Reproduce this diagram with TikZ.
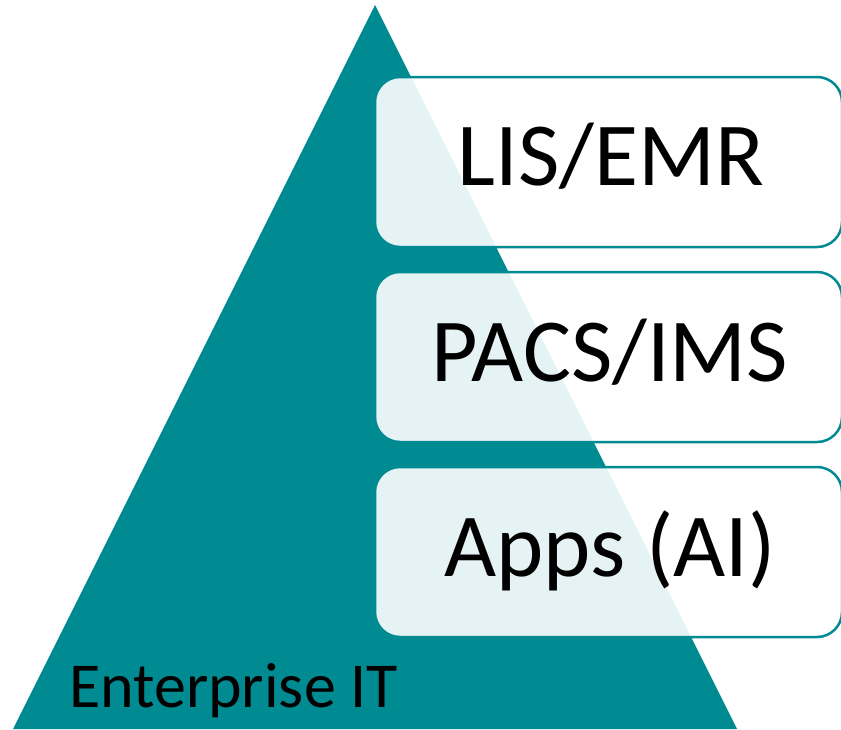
\documentclass[tikz,border=0pt]{standalone}
\usepackage{fontspec}
\setmainfont{Carlito}
\definecolor{tealmain}{RGB}{0,138,145}
\begin{document}
\begin{tikzpicture}[x=1pt,y=-1pt]
\tikzstyle{layer}=[rectangle, rounded corners=25pt, draw=tealmain, line width=2.5pt, fill=white, fill opacity=0.9, minimum width=467pt, minimum height=170pt, inner sep=0pt]
\tikzstyle{layertext}=[anchor=base, inner sep=0pt, font=\fontsize{90}{94}\selectfont]
\useasboundingbox (0,0) rectangle (841,729);
\clip (0,0) rectangle (841,729);

% pyramid
\draw[fill=tealmain, draw=none] (13,729) -- (375,5) -- (737,729) -- cycle;
\node[anchor=base west, inner sep=0pt, font=\fontsize{64}{68}\selectfont] (base) at (69,707) {Enterprise IT};

% layers on the right
\node[layer] (lis) at (608.5,162) {};
\node[layer] (pacs) at (608.5,357) {};
\node[layer] (apps) at (608.5,552) {};
\node[layertext] (listxt) at (611,185) {LIS/EMR};
\node[layertext] (pacstxt) at (610,381) {PACS/IMS};
\node[layertext] (appstxt) at (610,576) {Apps (AI)};
\end{tikzpicture}
\end{document}
